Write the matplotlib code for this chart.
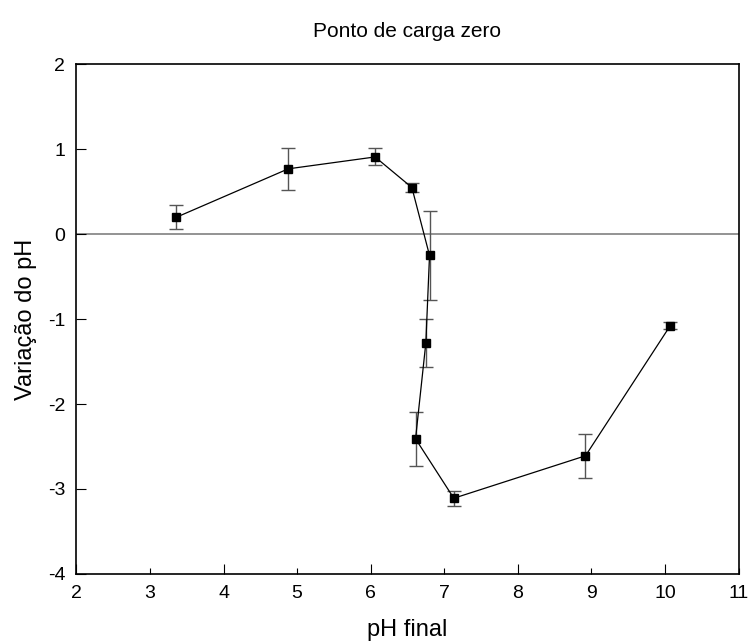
import matplotlib
matplotlib.use("Agg")
import matplotlib.pyplot as plt
from matplotlib.ticker import MultipleLocator

plt.rcParams['font.family'] = ['Liberation Sans', 'DejaVu Sans']
plt.rcParams['axes.unicode_minus'] = False

# pH final, variation of pH and standard deviation
ph_final = [3.36, 4.88, 6.06, 6.56, 6.80, 6.75, 6.61, 7.13, 8.92, 10.07]
delta_ph = [0.20, 0.77, 0.91, 0.55, -0.25, -1.28, -2.41, -3.11, -2.61, -1.08]
desvio = [0.14, 0.25, 0.10, 0.05, 0.52, 0.28, 0.32, 0.09, 0.26, 0.04]

fig, ax = plt.subplots(figsize=(7.49, 6.44), dpi=100)
fig.subplots_adjust(left=0.102, right=0.986, top=0.9, bottom=0.109)

ax.axhline(0, color='#808080', lw=1.2, zorder=1)
ax.errorbar(ph_final, delta_ph, yerr=desvio, fmt='none', ecolor='#555555',
            elinewidth=1.0, capsize=5, capthick=1.0, zorder=2)
ax.plot(ph_final, delta_ph, color='black', lw=0.9, marker='s', ms=5.5,
        mfc='black', mec='black', zorder=3)

ax.set_xlim(2, 11)
ax.set_ylim(-4, 2)
ax.yaxis.set_major_locator(MultipleLocator(1))
ax.set_xticks(range(2, 12))
ax.tick_params(axis='both', which='both', direction='in', labelsize=14,
               top=False, right=False)
ax.tick_params(axis='x', which='major', length=7, pad=8)
ax.tick_params(axis='y', which='major', length=7, pad=8)
for sp in ax.spines.values():
    sp.set_linewidth(1.2)

# odd ticks on x are shorter
for t, v in zip(ax.xaxis.get_major_ticks(), range(2, 12)):
    if v % 2:
        t.tick1line.set_markersize(4)

ax.set_xlabel('pH final', fontsize=17, labelpad=12)
ax.set_ylabel('Variação do pH', fontsize=17, labelpad=8)
ax.set_title('Ponto de carga zero', fontsize=15, pad=20)

fig.savefig('out.png', dpi=100)
